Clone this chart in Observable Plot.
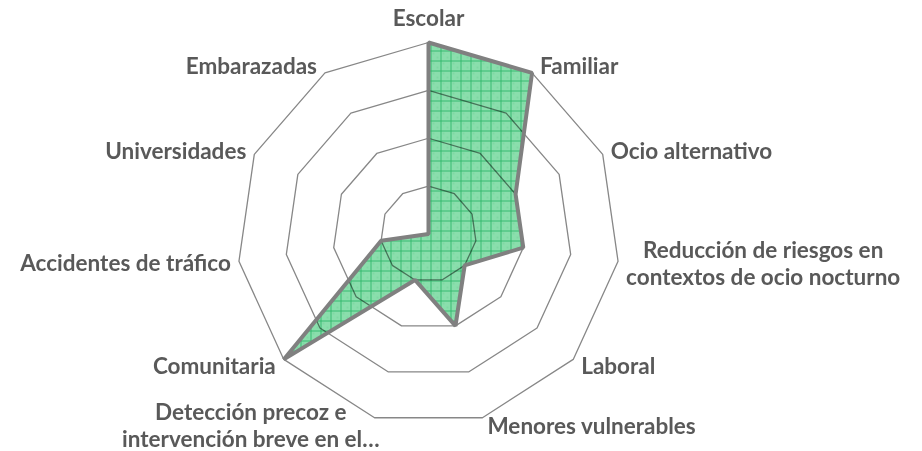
<!DOCTYPE html>
<html>
<head>
<meta charset="utf-8">
<script src="https://cdn.jsdelivr.net/npm/d3@7"></script>
<script src="https://cdn.jsdelivr.net/npm/@observablehq/plot@0.6"></script>
<style>
  html, body { margin: 0; padding: 0; background: #fff; }
  #chart svg { display: block; }
</style>
</head>
<body>
<div id="chart"></div>
<script>
// ---- Data ----
const categorias = [
  "Escolar",
  "Familiar",
  "Ocio alternativo",
  "Reducción de riesgos en\ncontextos de ocio nocturno",
  "Laboral",
  "Menores vulnerables",
  "Detección precoz e\nintervención breve en el…",
  "Comunitaria",
  "Accidentes de tráfico",
  "Universidades",
  "Embarazadas"
];
const valores = [4, 4, 2, 2, 1, 2, 1, 4, 1, 0, 0];
const niveles = [1, 2, 3, 4];

// ---- Layout ----
const W = 922, H = 451;
const cx = 428, cy = 233.5, Rpx = 191.5;
const maxVal = 4;
const k = Rpx / maxVal; // px per unit
const n = categorias.length;
const ang = i => (2 * Math.PI * i) / n;
const px = (v, i) => v * Math.sin(ang(i));
const py = (v, i) => v * Math.cos(ang(i));

const ringPts = niveles.flatMap(l => categorias.map((c, i) => ({nivel: l, i, x: px(l, i), y: py(l, i)})));
const dataPts = valores.map((v, i) => ({i, x: px(v, i), y: py(v, i)}));

const labels = categorias.map((c, i) => {
  const s = Math.sin(ang(i)), co = Math.cos(ang(i));
  const side = Math.abs(s) < 0.1 ? 0 : Math.sign(s);
  // bottom labels (near 180°) are nudged slightly to the right, as Excel does
  const bottom = co < -0.9;
  const offX = bottom ? 5 : side * 8;
  const offY = side === 0 ? 25 : (bottom ? 7.5 : 9) * co;
  return {
    label: c,
    side,
    x: maxVal * s + offX / k,
    y: maxVal * co + offY / k
  };
});

const font = "Lato, 'Open Sans', sans-serif";
const textOpts = {
  x: "x", y: "y", text: "label",
  fill: "#595959", fontWeight: "bold", fontSize: 22.5, fontFamily: font,
  lineHeight: 1.2
};

const plot = Plot.plot({
  width: W, height: H,
  margin: 0,
  x: {domain: [-cx / k, (W - cx) / k], axis: null},
  y: {domain: [-(H - cy) / k, cy / k], axis: null},
  style: {background: "#fff", overflow: "visible"},
  marks: [
    Plot.line(ringPts, {x: "x", y: "y", z: "nivel", curve: "linear-closed", stroke: "#878787", strokeWidth: 1.3}),
    Plot.line(dataPts, {x: "x", y: "y", curve: "linear-closed", fill: "url(#rejilla)", stroke: "none", mixBlendMode: "multiply"}),
    Plot.line(dataPts, {x: "x", y: "y", curve: "linear-closed", stroke: "#808080", strokeWidth: 4, strokeLinejoin: "miter", fill: "none"}),
    Plot.text(labels.filter(d => d.side > 0), {...textOpts, textAnchor: "start"}),
    Plot.text(labels.filter(d => d.side < 0), {...textOpts, textAnchor: "end"}),
    Plot.text(labels.filter(d => d.side === 0), {...textOpts, textAnchor: "middle"})
  ]
});

// pattern: Excel-like small grid fill
const ns = "http://www.w3.org/2000/svg";
const defs = document.createElementNS(ns, "defs");
defs.innerHTML = `
  <pattern id="rejilla" patternUnits="userSpaceOnUse" width="10" height="10">
    <rect width="10" height="10" fill="#8adeac"/>
    <rect x="2" y="2" width="2" height="2" fill="#7fd8a3"/>
    <rect x="6" y="6" width="2" height="2" fill="#7fd8a3"/>
    <path d="M0 0.5H10M0.5 0V10" stroke="#36b96f" stroke-width="1" fill="none"/>
  </pattern>`;
plot.insertBefore(defs, plot.firstChild);

document.getElementById("chart").appendChild(plot);

// center multi-line labels inside their box (Excel style)
plot.querySelectorAll("text").forEach(t => {
  const spans = t.querySelectorAll("tspan");
  if (spans.length > 1) {
    const w = t.getBBox().width;
    const anchor = t.getAttribute("text-anchor") || t.parentNode.getAttribute("text-anchor");
    const shift = anchor === "start" ? w / 2 : anchor === "end" ? -w / 2 : 0;
    t.setAttribute("text-anchor", "middle");
    spans.forEach(s => s.setAttribute("x", shift));
  }
});
</script>
</body>
</html>
